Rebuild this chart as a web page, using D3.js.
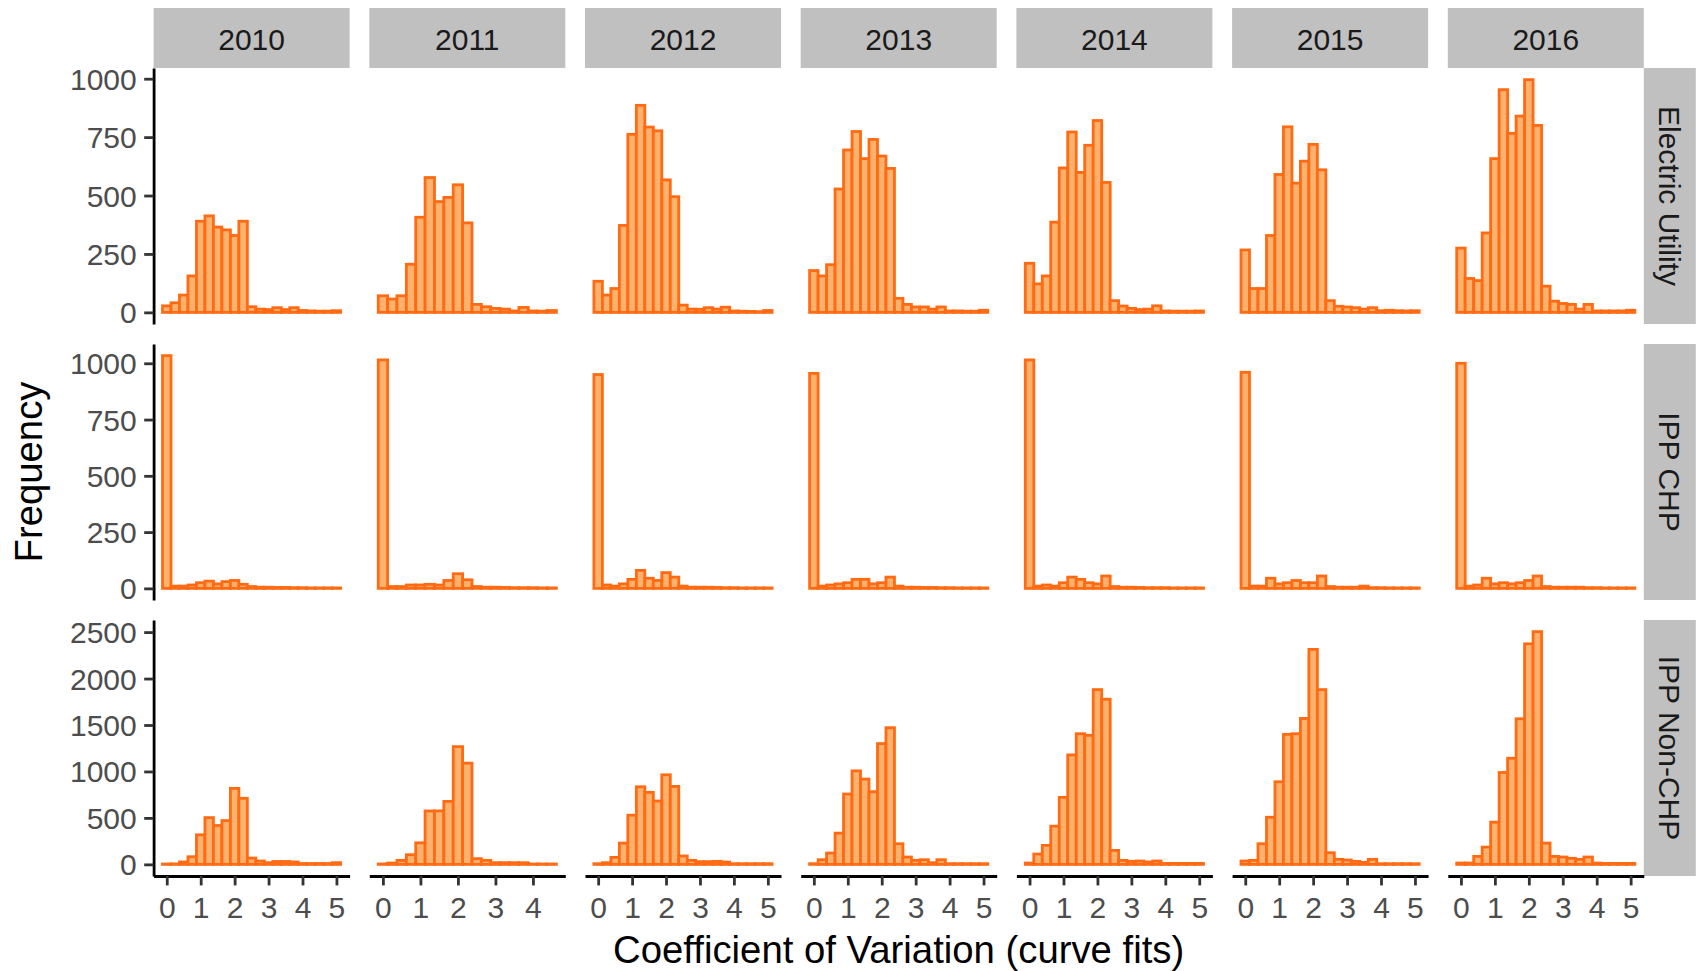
<!DOCTYPE html>
<html>
<head>
<meta charset="utf-8">
<script src="https://cdn.jsdelivr.net/npm/d3@7"></script>
<style>
  html, body { margin: 0; padding: 0; background: #ffffff; }
  svg { display: block; font-family: "Liberation Sans", Arial, sans-serif; }
</style>
</head>
<body>
<svg id="chart" width="1696" height="971"></svg>
<script>
// Facet columns (years) and rows (plant types)
const years = ["2010", "2011", "2012", "2013", "2014", "2015", "2016"];
const types = ["Electric Utility", "IPP CHP", "IPP Non-CHP"];

// Histogram bins: width 0.25, centred on 0, 0.25, 0.5, ...
const binWidth = 0.25;

// Counts per bin, one list per year (2010 … 2016)
const electricUtility = [
  [28, 41, 74, 156, 390, 413, 365, 353, 329, 390, 24, 14, 12, 20, 12, 20, 8, 6, 5, 5, 7],
  [71, 57, 71, 206, 407, 577, 474, 492, 546, 383, 34, 24, 17, 14, 6, 21, 6, 5, 8],
  [133, 74, 102, 372, 762, 886, 793, 777, 567, 495, 31, 14, 13, 20, 14, 22, 6, 5, 4, 3, 8],
  [179, 156, 204, 528, 695, 774, 658, 740, 669, 616, 60, 34, 23, 23, 14, 23, 6, 6, 5, 5, 9],
  [210, 122, 156, 386, 618, 772, 599, 715, 821, 556, 50, 27, 17, 12, 14, 28, 6, 5, 5, 5, 6],
  [267, 102, 102, 329, 590, 794, 553, 647, 719, 610, 50, 26, 23, 20, 14, 20, 7, 9, 7, 6, 7],
  [275, 145, 136, 340, 658, 953, 766, 840, 996, 800, 112, 48, 38, 34, 14, 34, 6, 6, 6, 6, 9]
];

const ippChp = [
  [1034, 10, 10, 15, 25, 32, 20, 30, 35, 18, 8, 5, 5, 4, 4, 3, 3, 2, 2, 2, 2],
  [1015, 8, 8, 15, 15, 18, 15, 35, 65, 38, 8, 5, 5, 4, 3, 3, 3, 2, 2],
  [950, 15, 10, 20, 40, 80, 45, 35, 70, 50, 10, 5, 5, 5, 4, 3, 3, 2, 2, 2, 2],
  [955, 10, 15, 20, 25, 40, 40, 20, 25, 50, 10, 5, 5, 4, 4, 3, 3, 2, 2, 2, 2],
  [1015, 10, 15, 10, 25, 50, 40, 25, 20, 55, 8, 5, 5, 4, 3, 3, 3, 2, 2, 2, 2],
  [960, 10, 10, 45, 20, 25, 35, 25, 25, 55, 8, 5, 5, 5, 10, 3, 3, 2, 2, 2, 2],
  [1000, 10, 15, 45, 20, 25, 20, 25, 35, 55, 8, 5, 5, 5, 5, 3, 3, 2, 2, 2, 2]
];

const ippNonChp = [
  [4, 5, 26, 82, 318, 503, 418, 471, 818, 711, 68, 36, 18, 31, 31, 26, 9, 9, 9, 9, 18],
  [4, 14, 43, 104, 232, 575, 575, 678, 1267, 1089, 61, 43, 18, 18, 18, 18, 4, 4, 4],
  [7, 18, 75, 229, 529, 835, 775, 682, 964, 839, 90, 43, 29, 29, 32, 25, 7, 7, 7, 7, 7],
  [7, 50, 122, 336, 757, 1006, 918, 782, 1300, 1471, 222, 79, 43, 50, 18, 50, 7, 7, 7, 7, 7],
  [14, 111, 204, 411, 721, 1178, 1406, 1389, 1881, 1777, 150, 43, 32, 36, 25, 36, 10, 10, 10, 10, 10],
  [36, 43, 222, 507, 889, 1399, 1406, 1571, 2314, 1881, 125, 54, 47, 32, 22, 54, 7, 7, 7, 7, 7],
  [14, 14, 86, 186, 454, 989, 1142, 1567, 2374, 2505, 229, 86, 79, 65, 54, 79, 14, 10, 10, 10, 10]
];

// Axis tick values
const xTicks = [0, 1, 2, 3, 4, 5];
const yTicksSmall = [0, 250, 500, 750, 1000];
const yTicksLarge = [0, 500, 1000, 1500, 2000, 2500];

const rowsData = [electricUtility, ippChp, ippNonChp];
const rowTicks = [yTicksSmall, yTicksSmall, yTicksLarge];

// Layout
const panelLeft = 153.6, panelTop = 68;
const panelW = 196.0, panelH = 256;
const gapX = 19.7, gapY = 20;
const stripTopH = 60, stripRightW = 52;
const tickLen = 9.4, tickPad = 7.5;
const axisFont = 30, titleFont = 38.3;
const lineW = 2.8;
const fillColor = "#ffb26e", strokeColor = "#ff6a13";

const svg = d3.select("#chart");

// x scale per column (free scales), domain expanded 5% on each side
const xScales = years.map((y, j) => {
  const nBins = d3.max(rowsData, r => r[j].length);
  const lo = -binWidth / 2, hi = (nBins - 1) * binWidth + binWidth / 2;
  const pad = 0.05 * (hi - lo);
  return d3.scaleLinear().domain([lo - pad, hi + pad]).range([0, panelW]);
});

// y scale per row
const yScales = rowsData.map(r => {
  const mx = d3.max(r, a => d3.max(a));
  return d3.scaleLinear().domain([-0.05 * mx, 1.05 * mx]).range([panelH, 0]);
});

const px = j => panelLeft + j * (panelW + gapX);
const py = i => panelTop + i * (panelH + gapY);

// Column strips
years.forEach((yr, j) => {
  const g = svg.append("g").attr("transform", `translate(${px(j)},${panelTop - stripTopH})`);
  g.append("rect").attr("width", panelW).attr("height", stripTopH).attr("fill", "#c0c0c0");
  g.append("text").attr("x", panelW / 2).attr("y", stripTopH / 2 + 1)
    .attr("text-anchor", "middle").attr("dominant-baseline", "central")
    .attr("font-size", axisFont).attr("fill", "#1a1a1a").text(yr);
});

// Row strips
types.forEach((t, i) => {
  const x0 = px(years.length - 1) + panelW;
  const g = svg.append("g").attr("transform", `translate(${x0},${py(i)})`);
  g.append("rect").attr("width", stripRightW).attr("height", panelH).attr("fill", "#c0c0c0");
  g.append("text")
    .attr("transform", `translate(${stripRightW / 2},${panelH / 2}) rotate(90)`)
    .attr("text-anchor", "middle").attr("dominant-baseline", "central")
    .attr("font-size", axisFont).attr("fill", "#1a1a1a").text(t);
});

// Panels with histogram bars
rowsData.forEach((rowData, i) => {
  years.forEach((yr, j) => {
    const x = xScales[j], y = yScales[i];
    const counts = rowData[j];
    const g = svg.append("g").attr("transform", `translate(${px(j)},${py(i)})`);
    g.selectAll("rect.bar").data(counts).join("rect")
      .attr("class", "bar")
      .attr("x", (d, k) => x(k * binWidth - binWidth / 2))
      .attr("width", (d, k) => x(k * binWidth + binWidth / 2) - x(k * binWidth - binWidth / 2))
      .attr("y", d => y(d))
      .attr("height", d => y(0) - y(d))
      .attr("fill", fillColor)
      .attr("stroke", strokeColor)
      .attr("stroke-width", lineW);
  });
});

function styleAxis(g) {
  g.select(".domain").attr("stroke", "#000").attr("stroke-width", lineW);
  g.selectAll(".tick line").attr("stroke", "#333").attr("stroke-width", lineW);
  g.selectAll(".tick text").attr("fill", "#4d4d4d").attr("font-size", axisFont)
    .attr("font-family", "Liberation Sans, Arial, sans-serif");
}

// Left axes (first column only)
rowsData.forEach((r, i) => {
  const g = svg.append("g").attr("transform", `translate(${panelLeft},${py(i)})`)
    .call(d3.axisLeft(yScales[i]).tickValues(rowTicks[i]).tickSize(tickLen)
      .tickSizeOuter(0).tickPadding(tickPad).tickFormat(d3.format("d")));
  styleAxis(g);
  g.selectAll(".tick text").attr("dy", "0.35em");
});

// Bottom axes (last row only)
years.forEach((yr, j) => {
  const x = xScales[j];
  const ticks = xTicks.filter(t => t <= x.domain()[1]);
  const g = svg.append("g").attr("transform", `translate(${px(j)},${py(rowsData.length - 1) + panelH})`)
    .call(d3.axisBottom(x).tickValues(ticks).tickSize(tickLen)
      .tickSizeOuter(0).tickPadding(tickPad).tickFormat(d3.format("d")));
  styleAxis(g);
  g.selectAll(".tick text").attr("dy", "0.82em");
});

// Axis titles
const plotMidX = (panelLeft + px(years.length - 1) + panelW) / 2;
const plotMidY = (panelTop + py(rowsData.length - 1) + panelH) / 2;
svg.append("text").attr("x", plotMidX).attr("y", 949)
  .attr("text-anchor", "middle").attr("dominant-baseline", "central")
  .attr("font-size", titleFont).attr("fill", "#000")
  .text("Coefficient of Variation (curve fits)");
svg.append("text")
  .attr("transform", `translate(28,${plotMidY}) rotate(-90)`)
  .attr("text-anchor", "middle").attr("dominant-baseline", "central")
  .attr("font-size", titleFont).attr("fill", "#000")
  .text("Frequency");
</script>
</body>
</html>
